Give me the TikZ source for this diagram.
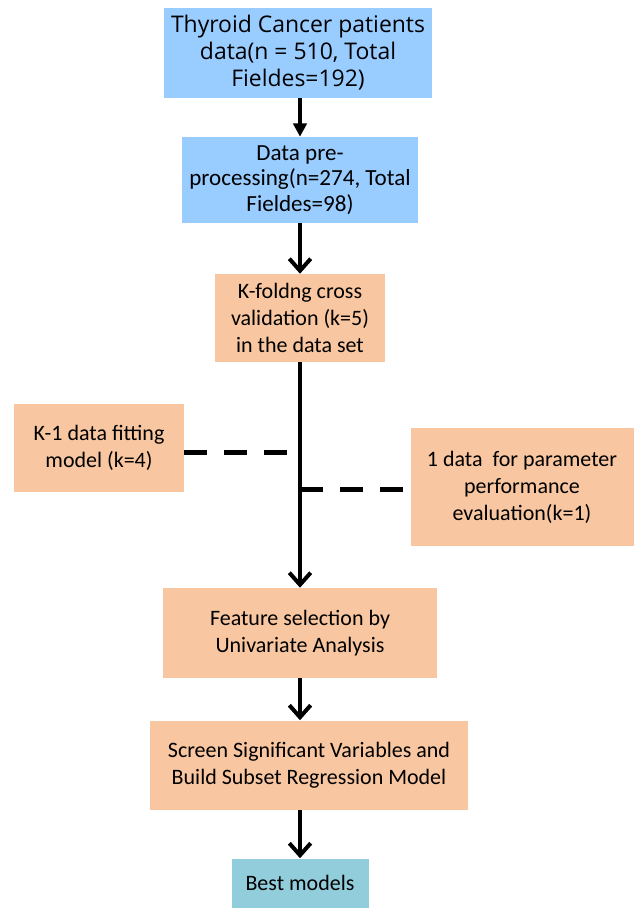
\documentclass[tikz,border=0pt]{standalone}
\usepackage{fontspec}
\setmainfont{Carlito}
\newfontfamily\topfont{Open Sans}
\usetikzlibrary{arrows.meta}

\begin{document}
\begin{tikzpicture}[x=0.75pt, y=-0.75pt,
    box/.style={rectangle, inner sep=0pt, align=center, font=\fontsize{16.5}{20.25}\selectfont},
    bluebox/.style={box, fill=stepblue},
    orangebox/.style={box, fill=steporange},
    tealbox/.style={box, fill=stepteal},
    flow/.style={line width=3pt, -{Straight Barb[length=9pt, width=16pt]}},
    split/.style={line width=3.75pt, dash pattern=on 17pt off 13pt}]
    % Define colors
    \definecolor{stepblue}{RGB}{153,204,255}
    \definecolor{steporange}{RGB}{248,198,160}
    \definecolor{stepteal}{RGB}{146,205,220}

    \useasboundingbox (0,0) rectangle (634,909);

    % Boxes
    \node[bluebox, minimum width=201pt, minimum height=67.5pt, font=\topfont\fontsize{17.2}{20.25}\selectfont] (data) at (298,53)
        {Thyroid Cancer patients\\data(n = 510, Total\\Fieldes=192)};
    \node[bluebox, minimum width=177pt, minimum height=64.5pt, font=\fontsize{17.3}{19.2}\selectfont] (prep) at (300,180)
        {Data pre-\\processing(n=274, Total\\Fieldes=98)};
    \node[orangebox, minimum width=127.5pt, minimum height=66pt] (kfold) at (300,318)
        {K-foldng cross\\validation (k=5)\\in the data set};
    \node[orangebox, minimum width=127.5pt, minimum height=66pt] (fit) at (99,448)
        {K-1 data fitting\\model (k=4)};
    \node[orangebox, minimum width=167.25pt, minimum height=88.5pt] (eval) at (522,487)
        {1 data~ for parameter\\performance\\evaluation(k=1)};
    \node[orangebox, minimum width=205.5pt, minimum height=67.5pt] (feat) at (300,633)
        {Feature selection by\\Univariate Analysis};
    \node[orangebox, minimum width=238.5pt, minimum height=66.75pt] (screen) at (309,765)
        {Screen Significant Variables and\\Build Subset Regression Model};
    \node[tealbox, minimum width=102.75pt, minimum height=36.75pt] (best) at (300,883)
        {Best models};

    % Arrows
    \draw[line width=3pt, -{Triangle[length=10pt, width=10pt]}] (data.south -| prep.north) -- (prep.north);
    \draw[flow] (prep.south) -- (kfold.north);
    \draw[flow] (kfold.south) -- (feat.north);
    \draw[flow] (feat.south) -- (feat.south |- screen.north);
    \draw[flow] (feat.south |- screen.south) -- (best.north);

    % Dashed links
    \coordinate (fitend) at (288,452);
    \coordinate (evalstart) at (kfold.south |- 0,489);
    \draw[split] (fit.east |- fitend) -- (fitend);
    \draw[split] (evalstart) -- (eval.west |- evalstart);
\end{tikzpicture}
\end{document}
